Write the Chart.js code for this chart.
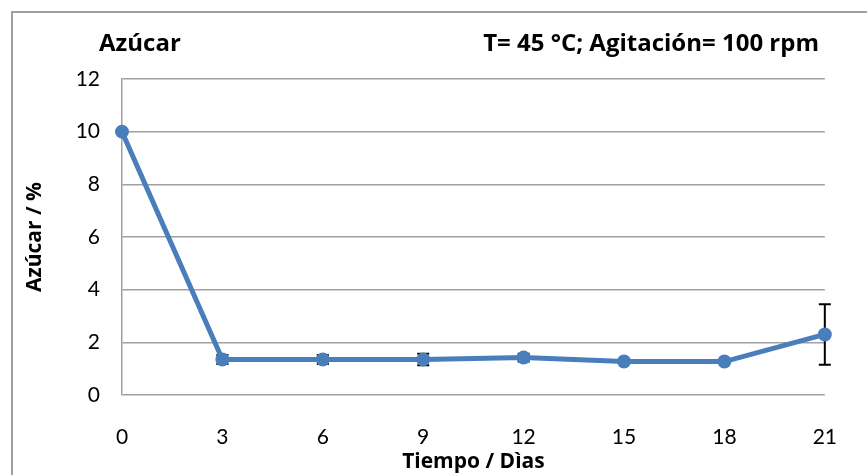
<!DOCTYPE html>
<html>
<head>
<meta charset="utf-8">
<script src="https://cdn.jsdelivr.net/npm/chart.js@4.4.0/dist/chart.umd.min.js"></script>
<style>
  html, body { margin: 0; padding: 0; background: #fff; }
  #wrap { width: 867px; height: 475px; }
</style>
</head>
<body>
<div id="wrap"><canvas id="sugarChart" width="867" height="475"></canvas></div>
<script>
const days = [0, 3, 6, 9, 12, 15, 18, 21];
const sugar = [10, 1.35, 1.35, 1.35, 1.42, 1.27, 1.27, 2.3];
const sugarErr = [0, 0.17, 0.17, 0.22, 0.15, 0.05, 0.05, 1.15];
const yTicks = [0, 2, 4, 6, 8, 10, 12];

const titleLeft = "Azúcar";
const titleRight = "T= 45 °C; Agitación= 100 rpm";

const FONT = "Lato, 'Open Sans', sans-serif";
const BOLD_FONT = "'Open Sans', Lato, sans-serif";

// frame + header texts
const framePlugin = {
  id: "frame",
  beforeDraw(chart) {
    const ctx = chart.ctx;
    ctx.save();
    ctx.fillStyle = "#fff";
    ctx.fillRect(0, 0, chart.width, chart.height);
    ctx.strokeStyle = "#a0a0a0";
    ctx.lineWidth = 2;
    ctx.strokeRect(12, 12, chart.width + 20, chart.height + 20);
    ctx.fillStyle = "#000";
    ctx.font = "bold 24px " + BOLD_FONT;
    ctx.textBaseline = "middle";
    ctx.textAlign = "left";
    ctx.fillText(titleLeft, 99, 44);
    ctx.textAlign = "right";
    ctx.fillText(titleRight, 819, 44);
    ctx.restore();
  },
};

// vertical error bars, drawn under the line
const errorBarPlugin = {
  id: "errorBars",
  beforeDatasetsDraw(chart) {
    const ctx = chart.ctx;
    const xs = chart.scales.x;
    const ys = chart.scales.y;
    ctx.save();
    ctx.strokeStyle = "#000";
    ctx.lineWidth = 2;
    days.forEach((d, i) => {
      if (!sugarErr[i]) return;
      const x = xs.getPixelForValue(d);
      const top = ys.getPixelForValue(sugar[i] + sugarErr[i]);
      const bot = ys.getPixelForValue(sugar[i] - sugarErr[i]);
      ctx.beginPath();
      ctx.moveTo(x, top);
      ctx.lineTo(x, bot);
      ctx.moveTo(x - 6, top);
      ctx.lineTo(x + 6, top);
      ctx.moveTo(x - 6, bot);
      ctx.lineTo(x + 6, bot);
      ctx.stroke();
    });
    ctx.restore();
  },
};

const ctx = document.getElementById("sugarChart").getContext("2d");
const sugarChart = new Chart(ctx, {
  type: "line",
  data: {
    datasets: [
      {
        label: "Azúcar",
        data: days.map((d, i) => ({ x: d, y: sugar[i] })),
        borderColor: "#4a7ebb",
        backgroundColor: "#4a7ebb",
        borderWidth: 5,
        pointRadius: 7,
        pointHoverRadius: 7,
        pointBorderWidth: 0,
        tension: 0,
        clip: false,
      },
    ],
  },
  options: {
    responsive: false,
    animation: false,
    events: [],
    layout: { padding: { top: 79, right: 32, left: 0, bottom: 0 } },
    plugins: {
      legend: { display: false },
      tooltip: { enabled: false },
    },
    scales: {
      x: {
        type: "linear",
        min: 0,
        max: 21,
        afterFit: (scale) => { scale.height = 80; },
        afterBuildTicks: (scale) => { scale.ticks = days.map((v) => ({ value: v })); },
        grid: { display: false, drawTicks: false },
        border: { display: false },
        ticks: { color: "#000", padding: 30, font: { family: FONT, size: 21 } },
        title: {
          display: true,
          text: "Tiempo / Dìas",
          color: "#000",
          padding: { top: 0, bottom: 0 },
          font: { family: BOLD_FONT, size: 21, weight: "bold" },
        },
      },
      y: {
        min: 0,
        max: 12,
        afterFit: (scale) => { scale.width = 122; },
        afterBuildTicks: (scale) => { scale.ticks = yTicks.map((v) => ({ value: v })); },
        grid: { color: "#a0a0a0", lineWidth: 1.5, drawTicks: false },
        border: { display: true, color: "#a0a0a0", width: 1.5 },
        ticks: { color: "#000", padding: 22, font: { family: FONT, size: 21 } },
        title: {
          display: true,
          text: "Azúcar / %",
          color: "#000",
          padding: { top: 22, bottom: 0 },
          font: { family: BOLD_FONT, size: 21, weight: "bold" },
        },
      },
    },
  },
  plugins: [framePlugin, errorBarPlugin],
});
</script>
</body>
</html>
